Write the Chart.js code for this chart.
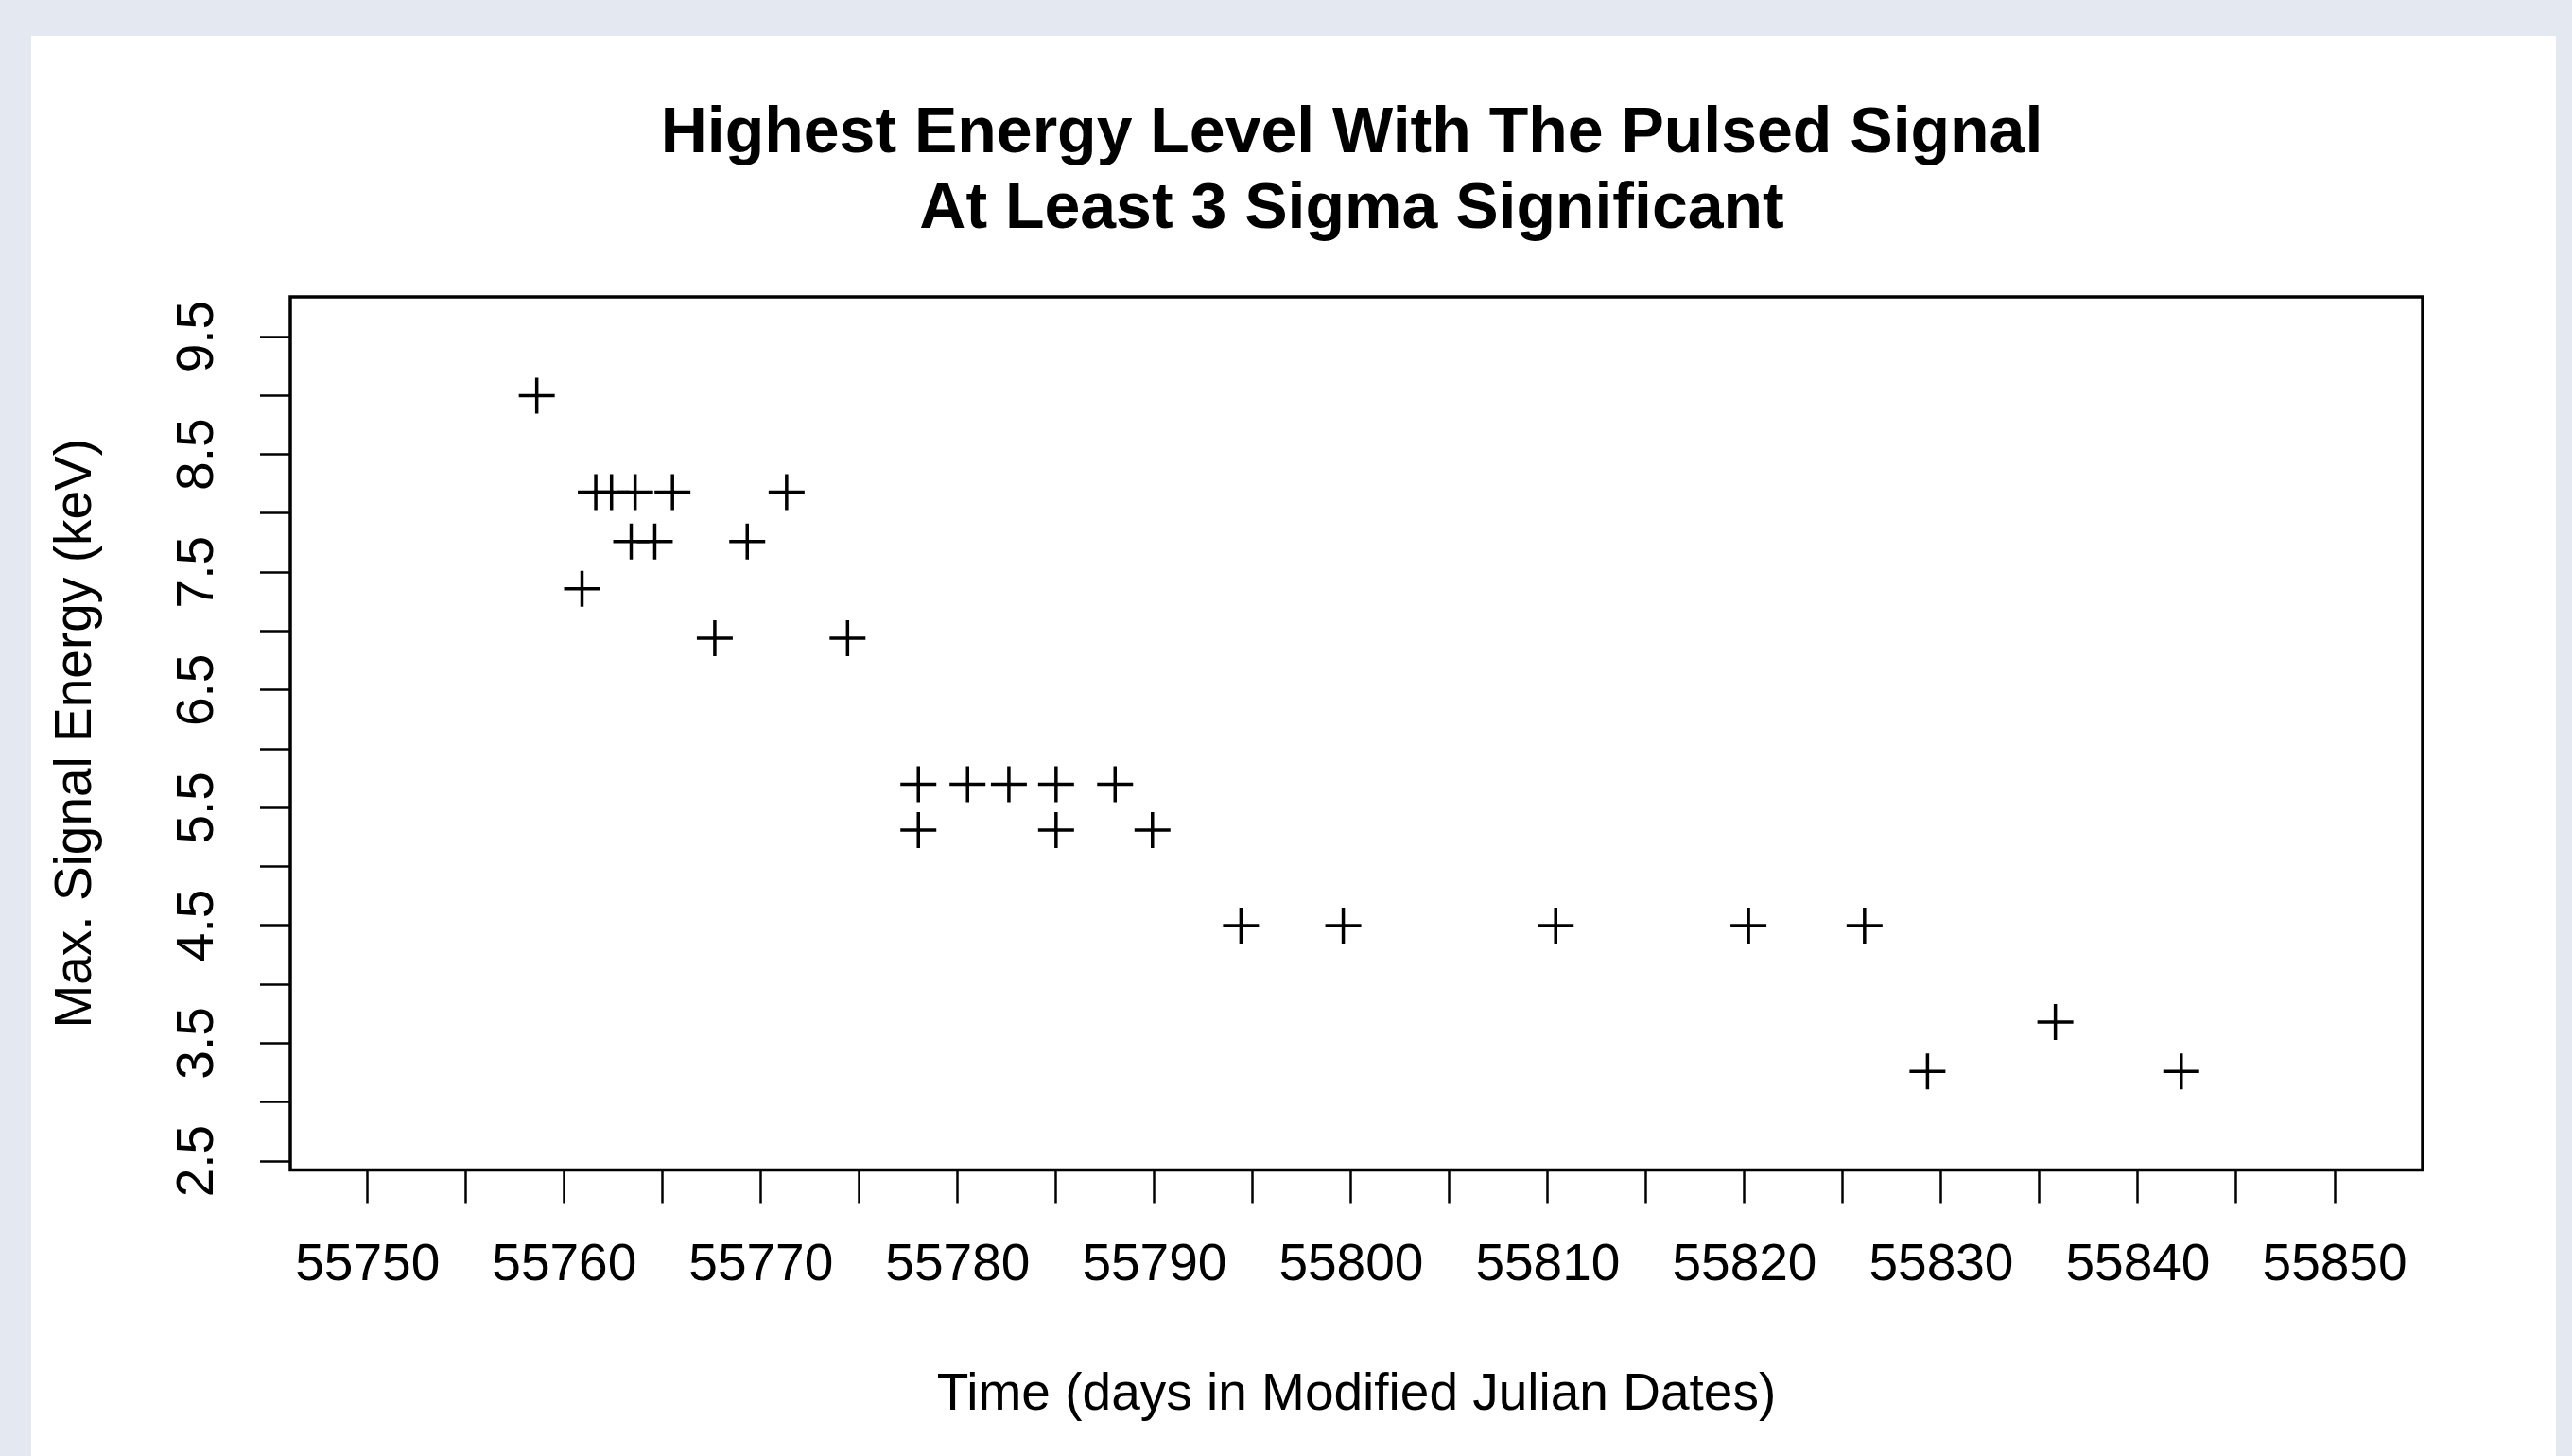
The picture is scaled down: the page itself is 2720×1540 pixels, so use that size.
<!DOCTYPE html>
<html>
<head>
<meta charset="utf-8">
<script src="https://cdn.jsdelivr.net/npm/chart.js@4.4.1/dist/chart.umd.min.js"></script>
<style>
html,body{margin:0;padding:0;background:#e4e8f0;}
body{width:2720px;height:1540px;overflow:hidden;position:relative;}
#panel{position:absolute;left:33px;top:38px;width:2670px;height:1502px;background:#fff;}
canvas{display:block;}
</style>
</head>
<body>
<div id="panel"><canvas id="energyChart" width="2670" height="1502"></canvas></div>
<script>
// days (MJD) and highest energy with a 3 sigma pulsed signal
const mjd=[55758.6,55760.9,55761.6,55762.4,55763.4,55763.6,55764.6,55765.5,55767.65,55769.3,55771.3,55774.4,
55778.0,55778.0,55780.5,55782.6,55785.0,55785.0,55788.0,55789.9,55794.4,55799.6,55810.4,55820.2,55826.1,
55829.3,55835.8,55842.2];
const maxEnergy=[9.0,7.36,8.18,8.18,7.76,8.18,7.76,8.18,6.94,7.76,8.18,6.94,
5.70,5.31,5.70,5.70,5.70,5.31,5.70,5.31,4.50,4.50,4.50,4.50,4.50,
3.26,3.68,3.26];

const xTickValues=[55750,55755,55760,55765,55770,55775,55780,55785,55790,55795,55800,55805,55810,55815,55820,55825,55830,55835,55840,55845,55850];
const xTickLabels=['55750','55760','55770','55780','55790','55800','55810','55820','55830','55840','55850'];
const yTickValues=[2.5,3,3.5,4,4.5,5,5.5,6,6.5,7,7.5,8,8.5,9,9.5];
const yTickLabels=['2.5','3.5','4.5','5.5','6.5','7.5','8.5','9.5'];

const titleLines=['Highest Energy Level With The Pulsed Signal','At Least 3 Sigma Significant'];
const xTitle='Time (days in Modified Julian Dates)';
const yTitle='Max. Signal Energy (keV)';

Chart.defaults.font.family="'Liberation Sans', Arial, sans-serif";
Chart.defaults.color='#000';

const points=mjd.map((x,i)=>({x:x,y:maxEnergy[i]}));

// box round the plot region, like R's box()
const frame={
id:'frame',
afterLayout(chart){
// center the main title over the plot region instead of the whole canvas
const t=chart.titleBlock;
const a=chart.chartArea;
const mid=(a.left+a.right)/2-5;
const half=(t.right-t.left)/2;
t.left=mid-half;
t.right=mid+half;
},
afterDraw(chart){
const a=chart.chartArea;
const c=chart.ctx;
c.save();
c.strokeStyle='#000';
c.lineWidth=3.5;
c.strokeRect(a.left,a.top,a.right-a.left,a.bottom-a.top);
c.restore();
}
};

const ctx=document.getElementById('energyChart');

new Chart(ctx,{
type:'scatter',
data:{
datasets:[{
data:points,
pointStyle:'cross',
pointRadius:19,
pointHoverRadius:19,
borderColor:'#000',
backgroundColor:'#000',
borderWidth:3.5
}]
},
options:{
responsive:false,
animation:false,
devicePixelRatio:1,
events:[],
layout:{padding:{left:0,right:141,top:0,bottom:0}},
plugins:{
legend:{display:false},
tooltip:{enabled:false},
title:{
display:true,
text:titleLines,
color:'#000',
font:{size:68,weight:'bold',lineHeight:'80px'},
padding:{top:64,bottom:52}
}
},
scales:{
x:{
type:'linear',
min:55746.07,
max:55854.47,
afterBuildTicks:(scale)=>{scale.ticks=xTickValues.map(v=>({value:v}));},
afterFit:(scale)=>{scale.height=302.5;},
border:{display:false},
grid:{drawOnChartArea:false,drawTicks:true,tickLength:35,tickWidth:2.5,tickColor:'#000'},
ticks:{
autoSkip:false,
maxRotation:0,
minRotation:0,
padding:33,
font:{size:55,lineHeight:1.2},
callback:(v)=>xTickLabels.includes(String(v))?String(v):''
},
title:{display:true,text:xTitle,font:{size:55,lineHeight:1.2},padding:{top:0,bottom:31}}
},
y:{
type:'linear',
min:2.424,
max:9.838,
afterBuildTicks:(scale)=>{scale.ticks=yTickValues.map(v=>({value:v}));},
afterFit:(scale)=>{scale.width=274;},
border:{display:false},
grid:{drawOnChartArea:false,drawTicks:true,tickLength:32,tickWidth:2.5,tickColor:'#000'},
ticks:{
autoSkip:false,
minRotation:90,
maxRotation:90,
crossAlign:'center',
padding:27,
font:{size:55,lineHeight:1.2},
callback:(v)=>yTickLabels.includes(String(v))?String(v):''
},
title:{display:true,text:yTitle,font:{size:55,lineHeight:1.2},padding:{top:15,bottom:0}}
}
}
},
plugins:[frame]
});
</script>
</body>
</html>
